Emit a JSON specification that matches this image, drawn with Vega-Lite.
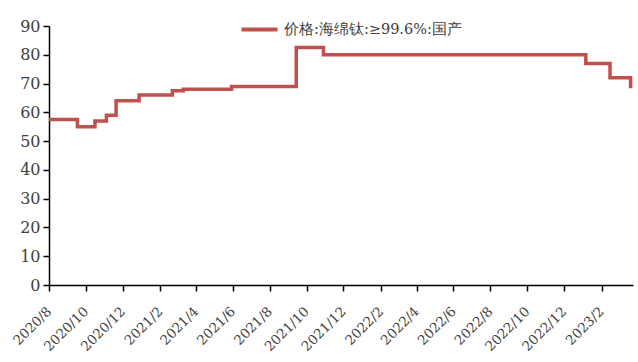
{
  "$schema": "https://vega.github.io/schema/vega-lite/v6.json",
  "autosize": "none",
  "width": 584,
  "height": 259,
  "padding": {"left": 49, "top": 26, "right": 5, "bottom": 77},
  "background": "white",
  "config": {
    "view": {"stroke": null},
    "font": "DejaVu Serif",
    "axis": {
      "grid": false,
      "domainColor": "#000000",
      "domainWidth": 1.5,
      "tickColor": "#000000",
      "tickWidth": 1.5,
      "tickSize": 6,
      "labelColor": "#404040",
      "labelFont": "DejaVu Serif",
      "title": null
    }
  },
  "data": {
    "values": [
      {"date": "2020/08/01", "price": 57.5, "series": "价格:海绵钛:≥99.6%:国产"},
      {"date": "2020/09/17", "price": 55, "series": "价格:海绵钛:≥99.6%:国产"},
      {"date": "2020/10/16", "price": 57, "series": "价格:海绵钛:≥99.6%:国产"},
      {"date": "2020/11/04", "price": 59, "series": "价格:海绵钛:≥99.6%:国产"},
      {"date": "2020/11/20", "price": 64, "series": "价格:海绵钛:≥99.6%:国产"},
      {"date": "2020/12/28", "price": 66, "series": "价格:海绵钛:≥99.6%:国产"},
      {"date": "2021/02/21", "price": 67.5, "series": "价格:海绵钛:≥99.6%:国产"},
      {"date": "2021/03/11", "price": 68, "series": "价格:海绵钛:≥99.6%:国产"},
      {"date": "2021/05/30", "price": 69, "series": "价格:海绵钛:≥99.6%:国产"},
      {"date": "2021/09/14", "price": 82.5, "series": "价格:海绵钛:≥99.6%:国产"},
      {"date": "2021/10/29", "price": 80, "series": "价格:海绵钛:≥99.6%:国产"},
      {"date": "2023/01/06", "price": 77, "series": "价格:海绵钛:≥99.6%:国产"},
      {"date": "2023/02/15", "price": 72, "series": "价格:海绵钛:≥99.6%:国产"},
      {"date": "2023/03/21", "price": 69, "series": "价格:海绵钛:≥99.6%:国产"},
      {"date": "2023/03/24", "price": 69, "series": "价格:海绵钛:≥99.6%:国产"}
    ]
  },
  "mark": {"type": "line", "interpolate": "step-after", "strokeWidth": 3.5, "clip": true},
  "encoding": {
    "x": {
      "field": "date",
      "type": "temporal",
      "scale": {"domain": [{"year": 2020, "month": 8, "date": 1}, {"year": 2023, "month": 3, "date": 25}]},
      "axis": {
        "values": [
          {"year": 2020, "month": 8, "date": 1},
          {"year": 2020, "month": 10, "date": 1},
          {"year": 2020, "month": 12, "date": 1},
          {"year": 2021, "month": 2, "date": 1},
          {"year": 2021, "month": 4, "date": 1},
          {"year": 2021, "month": 6, "date": 1},
          {"year": 2021, "month": 8, "date": 1},
          {"year": 2021, "month": 10, "date": 1},
          {"year": 2021, "month": 12, "date": 1},
          {"year": 2022, "month": 2, "date": 1},
          {"year": 2022, "month": 4, "date": 1},
          {"year": 2022, "month": 6, "date": 1},
          {"year": 2022, "month": 8, "date": 1},
          {"year": 2022, "month": 10, "date": 1},
          {"year": 2022, "month": 12, "date": 1},
          {"year": 2023, "month": 2, "date": 1}
        ],
        "format": "%Y/%-m",
        "labelAngle": -45,
        "labelAlign": "right",
        "labelBaseline": "middle",
        "labelFontSize": 13.5,
        "labelPadding": 18,
        "labelOverlap": false,
        "labelBound": false,
        "labelFlush": false
      }
    },
    "y": {
      "field": "price",
      "type": "quantitative",
      "scale": {"domain": [0, 90], "nice": false},
      "axis": {"values": [0, 10, 20, 30, 40, 50, 60, 70, 80, 90], "labelFontSize": 16, "labelPadding": 3, "tickSize": 6}
    },
    "color": {
      "field": "series",
      "type": "nominal",
      "scale": {"range": ["#C0504D"]},
      "legend": {
        "title": null,
        "orient": "none",
        "legendX": 190,
        "legendY": -17,
        "symbolType": "stroke",
        "symbolSize": 1300,
        "symbolStrokeWidth": 4,
        "labelFontSize": 14.5,
        "labelColor": "#404040",
        "labelFont": "DejaVu Serif",
        "labelLimit": 400
      }
    }
  }
}
